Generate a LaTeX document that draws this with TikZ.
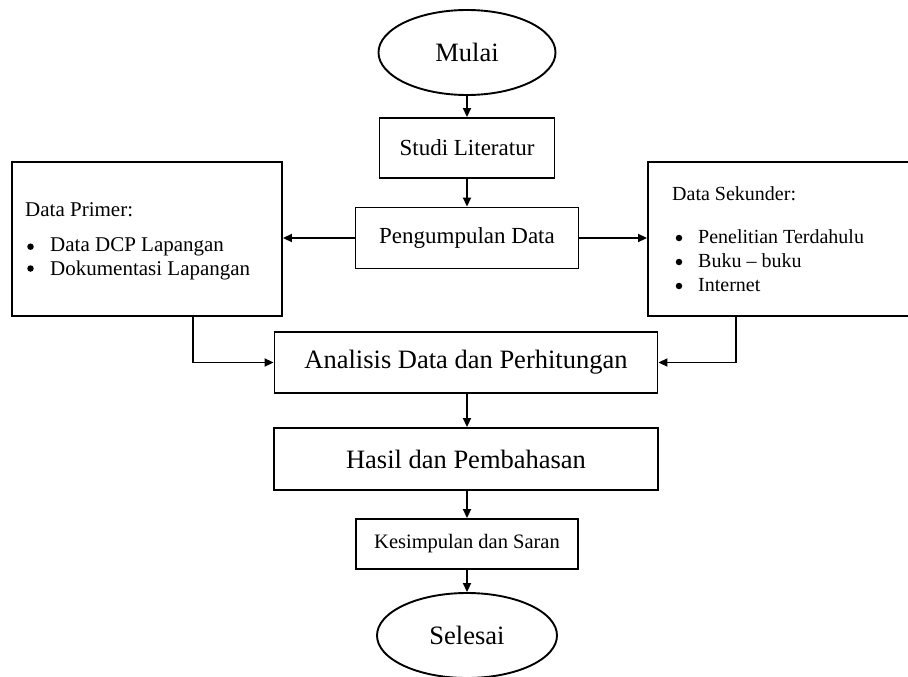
\documentclass[tikz,border=0pt]{standalone}
\usepackage{fontspec}
\setmainfont{Liberation Serif}
\usetikzlibrary{shapes.geometric,arrows.meta}
\tikzset{
  box/.style={draw=black,line width=1.9pt,rectangle,inner sep=0pt},
  term/.style={draw=black,line width=1.9pt,ellipse,inner sep=0pt},
  arr/.style={line width=1.9pt,-{Triangle[length=9pt,width=8pt]}},
  big/.style={font=\fontsize{26.5}{30}\selectfont},
  mid/.style={font=\fontsize{23}{27}\selectfont},
  sml/.style={font=\fontsize{20.5}{24}\selectfont},
  lst/.style={anchor=base west,inner sep=0pt,font=\fontsize{21}{24}\selectfont},
  lsr/.style={anchor=base west,inner sep=0pt,font=\fontsize{20}{24}\selectfont},
  dot/.style={circle,fill=black,inner sep=0pt,minimum size=6.5pt}
}
\begin{document}
\begin{tikzpicture}[x=1pt,y=-1pt]
\useasboundingbox (0,0) rectangle (908,677);
\clip (0,0) rectangle (908,677);
\fill[white] (0,0) rectangle (908,677);

\node[term,big,minimum width=177pt,minimum height=85pt] (mulai) at (467,52.5) {Mulai};
\node[box,mid,minimum width=175pt,minimum height=60pt] (studi) at (467,148) {Studi Literatur};
\node[box,mid,minimum width=223pt,minimum height=61pt] (kumpul) at (467,238) {Pengumpulan Data};
\node[box,minimum width=270pt,minimum height=154pt] (primer) at (147,239) {};
\node[box,minimum width=282pt,minimum height=154pt] (sekunder) at (789,239) {};
\node[box,big,minimum width=383pt,minimum height=61pt] (analisis) at (466,362.5) {Analisis Data dan Perhitungan};
\node[box,big,minimum width=384pt,minimum height=62pt] (hasil) at (466,459) {Hasil dan Pembahasan};
\node[box,sml,minimum width=222pt,minimum height=50pt] (simpul) at (467,544) {Kesimpulan dan Saran};
\node[term,big,minimum width=180pt,minimum height=85pt] (selesai) at (467,635.5) {Selesai};

% left box text
\node[lst] (ph) at (25,216.5) {Data Primer:};
\node[dot] (pb1) at (30.5,246.7) {};
\node[lst] (pt1) at (50,251) {Data DCP Lapangan};
\node[dot] (pb2) at (30.5,268.5) {};
\node[lst] (pt2) at (50,275) {Dokumentasi Lapangan};

% right box text
\node[lsr] (sh) at (672,200.5) {Data Sekunder:};
\node[dot] (sb1) at (679,238) {};
\node[lsr] (st1) at (698,243) {Penelitian Terdahulu};
\node[dot] (sb2) at (679,262) {};
\node[lsr] (st2) at (698,267) {Buku -- buku};
\node[dot] (sb3) at (679,286) {};
\node[lsr] (st3) at (698,291.5) {Internet};

% connectors
\draw[arr] (mulai) -- (studi);
\draw[arr] (studi) -- (kumpul);
\draw[arr] (kumpul.west) -- (kumpul.west -| primer.east);
\draw[arr] (kumpul.east) -- (kumpul.east -| sekunder.west);
\draw[arr] ([xshift=46pt]primer.south) |- (analisis.west);
\draw[arr] ([xshift=-53pt]sekunder.south) |- (analisis.east);
\draw[arr] (analisis.south -| kumpul) -- (hasil.north -| kumpul);
\draw[arr] (hasil.south -| kumpul) -- (simpul.north);
\draw[arr] (simpul) -- (selesai);
\end{tikzpicture}
\end{document}
